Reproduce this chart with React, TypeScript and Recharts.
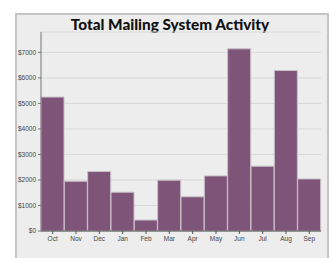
import { BarChart, Bar, XAxis, YAxis, CartesianGrid } from 'recharts'

// monthly activity, Oct -> Sep
const months = ['Oct', 'Nov', 'Dec', 'Jan', 'Feb', 'Mar', 'Apr', 'May', 'Jun', 'Jul', 'Aug', 'Sep']
const activity = [5250, 1950, 2330, 1520, 430, 1990, 1340, 2160, 7140, 2540, 6290, 2040]
const yTicks = [0, 1000, 2000, 3000, 4000, 5000, 6000, 7000]

const PURPLE = '#7e5479'

export default function App() {
    const data = months.map((name, i) => ({ name, value: activity[i] }))

    return (
        <div style={{ position: 'absolute', left: 0, top: 0, width: 330, height: 258, background: '#fff', overflow: 'hidden' }}>
            <div
                style={{
                    position: 'absolute',
                    left: 15,
                    top: 13,
                    width: 310,
                    height: 260,
                    border: '2px solid #c4c4c4',
                    background: '#ededed'
                }}
            />
            <div
                style={{
                    position: 'absolute',
                    left: 0,
                    top: 15,
                    width: 340,
                    textAlign: 'center',
                    fontFamily: 'Lato, sans-serif',
                    fontWeight: 900,
                    fontSize: 15.3,
                    color: '#111'
                }}
            >
                Total Mailing System Activity
            </div>
            <div style={{ position: 'absolute', left: 0, top: 0 }}>
                <BarChart
                    width={330}
                    height={258}
                    data={data}
                    margin={{ top: 32, right: 9, left: 11, bottom: 12 }}
                    barCategoryGap={0}
                >
                    <CartesianGrid vertical={false} stroke="#d8d8d8" />
                    <XAxis
                        dataKey="name"
                        height={15}
                        stroke="#555"
                        tickSize={3}
                        tick={{ fontSize: 6.5, fill: '#444', fontFamily: 'Liberation Sans, sans-serif' }}
                    />
                    <YAxis
                        width={30}
                        domain={[0, 7800]}
                        ticks={yTicks}
                        stroke="#777"
                        tickSize={3}
                        tickFormatter={(v) => `$${v}`}
                        tick={{ fontSize: 6.5, fill: '#444', fontFamily: 'Liberation Sans, sans-serif' }}
                    />
                    <Bar dataKey="value" fill={PURPLE} stroke="#c9bfc8" strokeWidth={1} isAnimationActive={false} />
                </BarChart>
            </div>
        </div>
    )
}
